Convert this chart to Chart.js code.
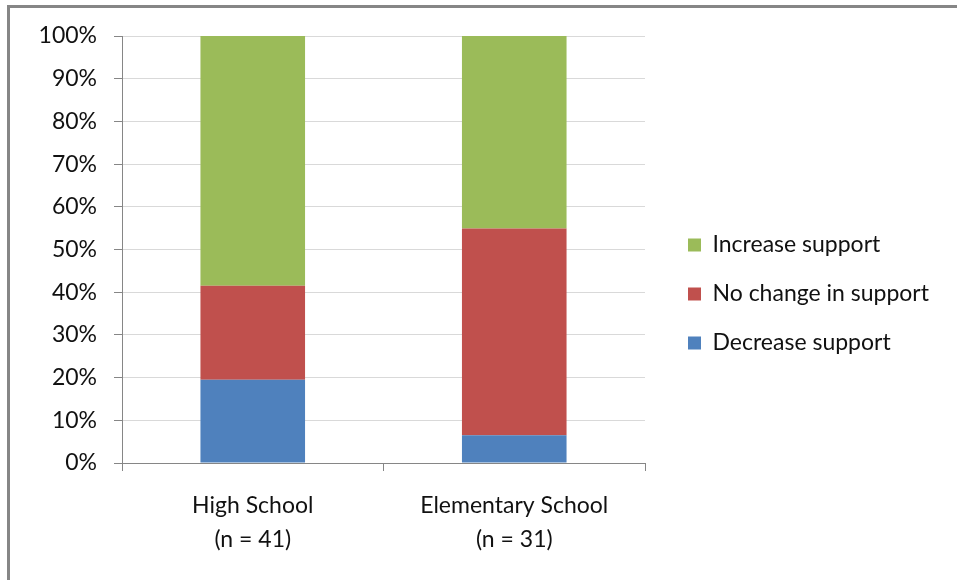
<!DOCTYPE html>
<html>
<head>
<meta charset="utf-8">
<script src="https://cdn.jsdelivr.net/npm/chart.js@4/dist/chart.umd.min.js"></script>
<style>
  html, body { margin: 0; padding: 0; background: #fff; overflow: hidden; }
  #wrap { position: relative; width: 957px; height: 580px; }
  #frame {
    position: absolute; left: 7px; top: 5px; right: -20px; bottom: -20px;
    border-left: 3px solid #868686; border-top: 3px solid #868686;
    pointer-events: none;
  }
  canvas { position: absolute; left: 0; top: 0; }
</style>
</head>
<body>
<div id="wrap">
  <canvas id="chart" width="957" height="580"></canvas>
  <div id="frame"></div>
</div>
<script>
// School levels (with sample sizes) on the category axis
const categories = [["High School", "(n = 41)"], ["Elementary School", "(n = 31)"]];

// Share of respondents per answer, in percent
const decreaseSupport = [19.5, 6.5];
const noChangeSupport = [22.0, 48.4];
const increaseSupport = [58.5, 45.1];

const yTicks = [0, 10, 20, 30, 40, 50, 60, 70, 80, 90, 100];

const FONT = "Lato, 'Open Sans', 'Liberation Sans', sans-serif";
const FONT_SIZE = 23;

// Give the legend a fixed-width column on the right and nudge its items
const legendPlacement = {
  id: 'legendPlacement',
  beforeInit(chart) {
    const lg = chart.legend;
    if (!lg) return;
    const fit = lg.fit.bind(lg);
    lg.fit = function () { fit(); this.width = 312; };
  },
  afterLayout(chart) {
    const lg = chart.legend;
    if (!lg) return;
    lg.left += 17; lg.right += 17;
    lg.top -= 28;
  }
};

new Chart(document.getElementById('chart'), {
  type: 'bar',
  data: {
    labels: categories,
    datasets: [
      { label: 'Decrease support', data: decreaseSupport, backgroundColor: '#4F81BD' },
      { label: 'No change in support', data: noChangeSupport, backgroundColor: '#C0504D' },
      { label: 'Increase support', data: increaseSupport, backgroundColor: '#9BBB59' }
    ]
  },
  options: {
    responsive: false,
    animation: false,
    devicePixelRatio: 1,
    layout: { padding: { top: 36, left: 0, right: 0, bottom: 0 } },
    datasets: { bar: { barPercentage: 0.4, categoryPercentage: 1.0, borderWidth: 0 } },
    plugins: {
      tooltip: { enabled: false },
      legend: {
        position: 'right',
        reverse: true,
        labels: {
          boxWidth: 13,
          boxHeight: 13,
          padding: 26,
          color: '#111',
          font: { family: FONT, size: FONT_SIZE }
        }
      }
    },
    scales: {
      x: {
        stacked: true,
        afterFit(scale) { scale.height = 117; },
        border: { color: '#868686', width: 1 },
        grid: { offset: true, drawOnChartArea: false, drawTicks: true, tickLength: 8, tickColor: '#868686' },
        ticks: { color: '#111', padding: 18, font: { family: FONT, size: FONT_SIZE, lineHeight: 1.48 } }
      },
      y: {
        stacked: true,
        min: 0,
        max: 100,
        afterFit(scale) { scale.width = 122; },
        afterBuildTicks(scale) { scale.ticks = yTicks.map(v => ({ value: v })); },
        border: { color: '#868686', width: 1 },
        grid: { color: '#D9D9D9', tickColor: '#868686', tickLength: 8, drawTicks: true },
        ticks: {
          color: '#111',
          padding: 17,
          font: { family: FONT, size: FONT_SIZE },
          callback: v => v + '%'
        }
      }
    }
  },
  plugins: [legendPlacement]
});
</script>
</body>
</html>
